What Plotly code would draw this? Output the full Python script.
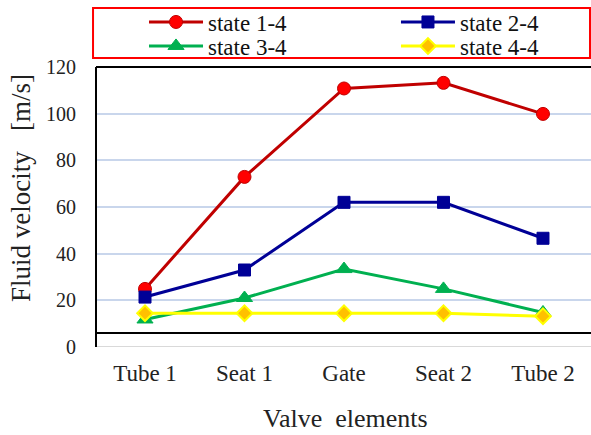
import plotly.graph_objects as go

categories = ["Tube 1", "Seat 1", "Gate", "Seat 2", "Tube 2"]
state_1_4 = [24.9, 72.9, 110.8, 113.2, 99.9]
state_2_4 = [21.4, 33.0, 62.0, 62.0, 46.6]
state_3_4 = [11.8, 21.0, 33.4, 24.9, 14.8]
state_4_4 = [14.5, 14.5, 14.5, 14.5, 13.2]
y_ticks = [0, 20, 40, 60, 80, 100, 120]

FONT = "Liberation Serif"

fig = go.Figure()
fig.add_trace(go.Scatter(x=categories, y=state_1_4, name="state 1-4", mode="lines+markers",
                         legend="legend",
                         line=dict(color="#c00000", width=3),
                         marker=dict(symbol="circle", size=13, color="#ff0000",
                                     line=dict(color="#c00000", width=1))))
fig.add_trace(go.Scatter(x=categories, y=state_2_4, name="state 2-4", mode="lines+markers",
                         legend="legend2",
                         line=dict(color="#000096", width=3),
                         marker=dict(symbol="square", size=12, color="#000096",
                                     line=dict(color="#000096", width=1))))
fig.add_trace(go.Scatter(x=categories, y=state_3_4, name="state 3-4", mode="lines+markers",
                         legend="legend3",
                         line=dict(color="#00b050", width=3),
                         marker=dict(symbol="triangle-up", size=14, color="#00b050",
                                     line=dict(color="#00b050", width=1))))
fig.add_trace(go.Scatter(x=categories, y=state_4_4, name="state 4-4", mode="lines+markers",
                         legend="legend4",
                         line=dict(color="#ffff00", width=3),
                         marker=dict(symbol="diamond", size=12, color="#ffc000",
                                     line=dict(color="#ffff00", width=2))))

legend_common = dict(orientation="h", xanchor="left", yanchor="middle", itemwidth=54,
                     font=dict(family=FONT, size=23, color="#111111"),
                     bgcolor="rgba(0,0,0,0)")
col1, col2 = 0.097, 0.606
row1, row2 = 1.1607, 1.075

fig.update_layout(
    width=591, height=435,
    margin=dict(l=96, r=0, t=67, b=88, autoexpand=False),
    paper_bgcolor="white", plot_bgcolor="white",
    font=dict(family=FONT, size=20, color="#222222"),
    showlegend=True,
    legend=dict(x=col1, y=row1, **legend_common),
    legend2=dict(x=col2, y=row1, **legend_common),
    legend3=dict(x=col1, y=row2, **legend_common),
    legend4=dict(x=col2, y=row2, **legend_common),
    xaxis=dict(type="category", range=[-0.4925, 4.4825], showgrid=False, zeroline=False,
               showline=False, ticks="", ticklabelstandoff=10, automargin=False,
               tickfont=dict(family=FONT, size=23, color="#222222")),
    yaxis=dict(range=[0, 120], tickvals=y_ticks, showgrid=True, gridcolor="#c9d6ec",
               gridwidth=1.5, zeroline=False, showline=False, ticks="", automargin=False,
               ticklabelstandoff=19, tickfont=dict(family=FONT, size=20, color="#222222")),
)

# frame lines (top, left) and inner black baseline, grey zero line
fig.add_shape(type="line", xref="paper", yref="paper", x0=0, x1=1, y0=1, y1=1,
              line=dict(color="black", width=2))
fig.add_shape(type="line", xref="paper", yref="y", x0=0, x1=1, y0=0, y1=0,
              line=dict(color="#d9d9d9", width=2))
fig.add_shape(type="line", xref="paper", yref="y", x0=0, x1=1, y0=6, y1=6,
              line=dict(color="black", width=2))
fig.add_shape(type="line", xref="paper", yref="paper", x0=0, x1=0, y0=0, y1=1,
              line=dict(color="black", width=2))
# red legend frame
fig.add_shape(type="rect", xref="paper", yref="paper", x0=-0.006, x1=0.998, y0=1.032, y1=1.2107,
              line=dict(color="#ff0000", width=2))

fig.add_annotation(text="Fluid velocity\u00a0\u00a0 [m/s]", xref="paper", yref="paper",
                   x=-0.1515, y=0.568, xanchor="center", yanchor="middle",
                   textangle=-90, showarrow=False,
                   font=dict(family=FONT, size=27, color="#222222"))
fig.add_annotation(text="Valve\u00a0 elements", xref="paper", yref="paper",
                   x=0.505, y=-0.255, xanchor="center", yanchor="middle", showarrow=False,
                   font=dict(family=FONT, size=26, color="#222222"))

fig.write_html("out.html", config={"displayModeBar": False},
               post_script="document.body.style.margin='0';document.body.style.overflow='hidden';")
